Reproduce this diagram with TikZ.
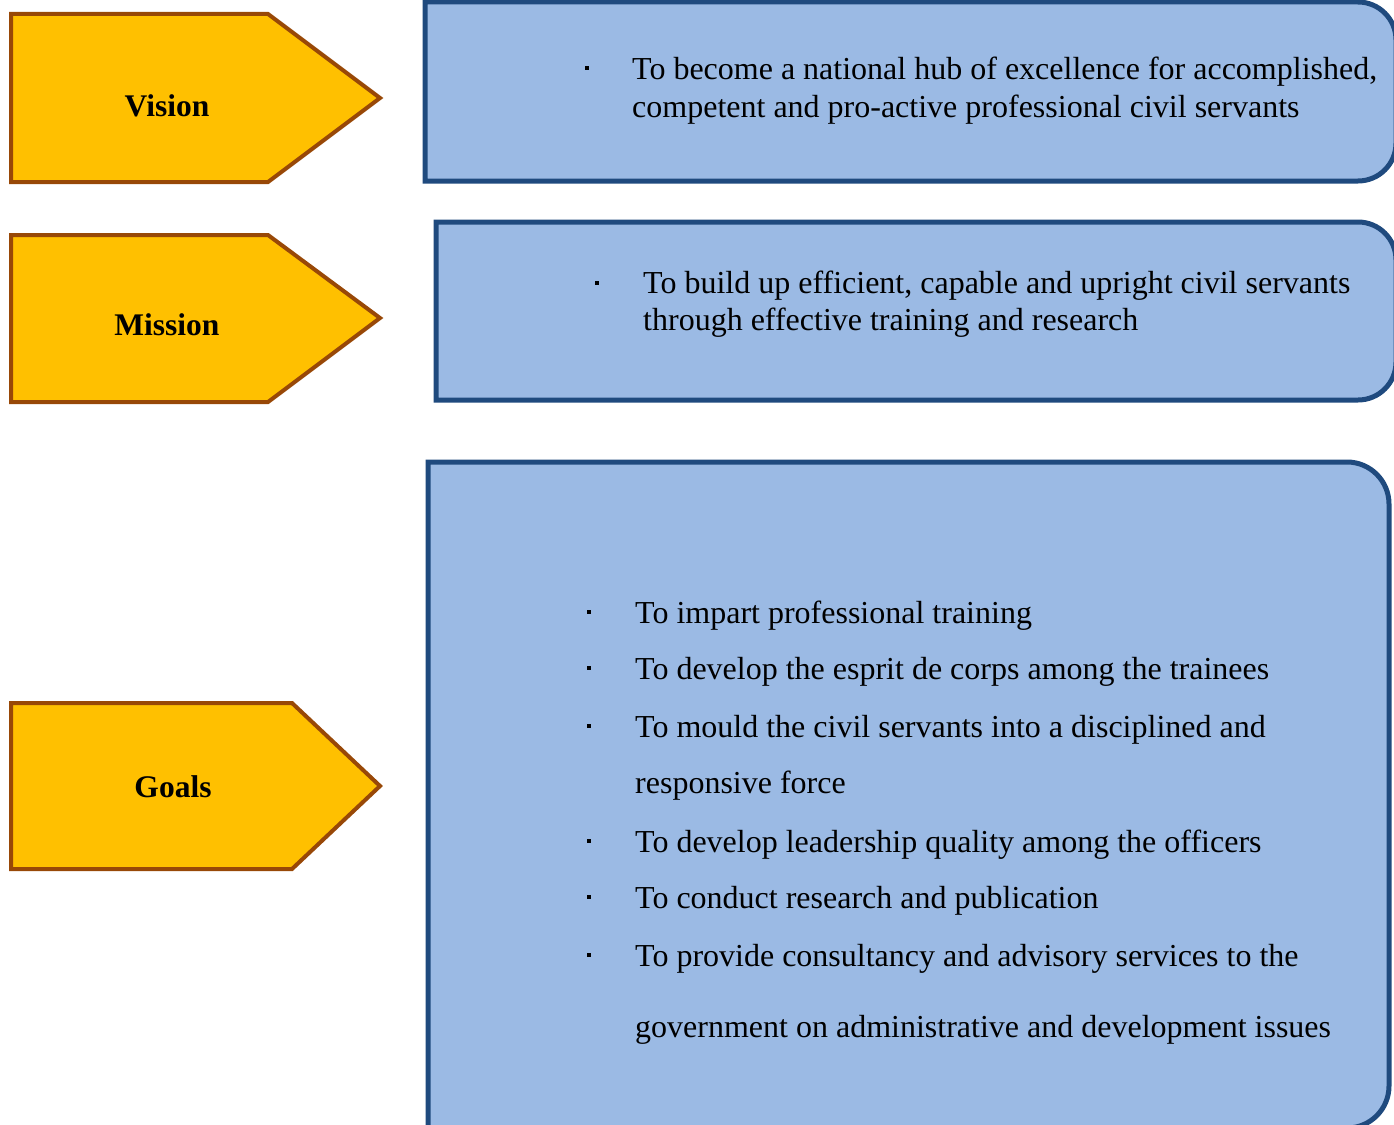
\documentclass[tikz,border=0pt]{standalone}
\usepackage{fontspec}
\setmainfont{Liberation Serif}
\usepackage{xcolor}
\usepackage{tikz}
\usetikzlibrary{positioning}
\definecolor{tagfill}{HTML}{FFC000}
\definecolor{tagline}{HTML}{984807}
\definecolor{panelfill}{HTML}{9BBAE4}
\definecolor{panelline}{HTML}{1F4A7E}
\tikzset{
  tag/.style={draw=tagline, fill=tagfill, line width=4pt, line join=miter},
  panel/.style={draw=panelline, fill=panelfill, line width=5pt, line join=miter},
  taglabel/.style={anchor=base, inner sep=0pt, font=\fontsize{31.5}{36}\selectfont\bfseries},
  item/.style={anchor=base west, inner sep=0pt, font=\fontsize{32}{37}\selectfont},
  bul/.style={rectangle, fill=black, inner sep=0pt, minimum size=3.4pt},
}
\begin{document}
\begin{tikzpicture}[x=1pt, y=1pt]
  \useasboundingbox (0,0) rectangle (1394,-1124);
  \clip (0,0) rectangle (1394,-1124);

  % left tags
  \draw[tag] (11,-14) -- (268,-14) -- (380,-98) -- (268,-182) -- (11,-182) -- cycle;
  \draw[tag] (11,-235) -- (268,-235) -- (380,-318) -- (268,-402) -- (11,-402) -- cycle;
  \draw[tag] (11,-703) -- (292,-703) -- (380,-786) -- (292,-869) -- (11,-869) -- cycle;
  \node[taglabel] (vision)  at (167,-116) {Vision};
  \node[taglabel] (mission) at (167,-335) {Mission};
  \node[taglabel] (goals)   at (173,-797) {Goals};

  % right panels
  \draw[panel] (425,-2) -- (1358,-2) arc[start angle=90, end angle=0, radius=38]
    -- (1396,-143) arc[start angle=0, end angle=-90, radius=38] -- (425,-181) -- cycle;
  \draw[panel] (436,-222) -- (1358,-222) arc[start angle=90, end angle=0, radius=38]
    -- (1396,-362) arc[start angle=0, end angle=-90, radius=38] -- (436,-400) -- cycle;
  \draw[panel] (428,-462) -- (1347,-462) arc[start angle=90, end angle=0, radius=42]
    -- (1389,-1086) arc[start angle=0, end angle=-90, radius=42] -- (428,-1128) -- cycle;

  % vision text
  \node[bul] (vb) at (587,-68) {};
  \node[item] (v1) at (632,-79) {To become a national hub of excellence for accomplished,};
  \node[item] (v2) at (632,-117) {competent and pro-active professional civil servants};

  % mission text
  \node[bul] (mb) at (597,-283) {};
  \node[item] (m1) at (643,-293) {To build up efficient, capable and upright civil servants};
  \node[item] (m2) at (643,-330) {through effective training and research};

  % goals text
  \node[bul] (gb1) at (589,-612) {};
  \node[item] (g1) at (635,-623) {To impart professional training};
  \node[bul] (gb2) at (589,-668) {};
  \node[item] (g2) at (635,-679) {To develop the esprit de corps among the trainees};
  \node[bul] (gb3) at (589,-726) {};
  \node[item] (g3) at (635,-737) {To mould the civil servants into a disciplined and};
  \node[item] (g4) at (635,-793) {responsive force};
  \node[bul] (gb4) at (589,-841) {};
  \node[item] (g5) at (635,-852) {To develop leadership quality among the officers};
  \node[bul] (gb5) at (589,-897) {};
  \node[item] (g6) at (635,-908) {To conduct research and publication};
  \node[bul] (gb6) at (589,-955) {};
  \node[item] (g7) at (635,-966) {To provide consultancy and advisory services to the};
  \node[item] (g8) at (635,-1037) {government on administrative and development issues};
\end{tikzpicture}
\end{document}
